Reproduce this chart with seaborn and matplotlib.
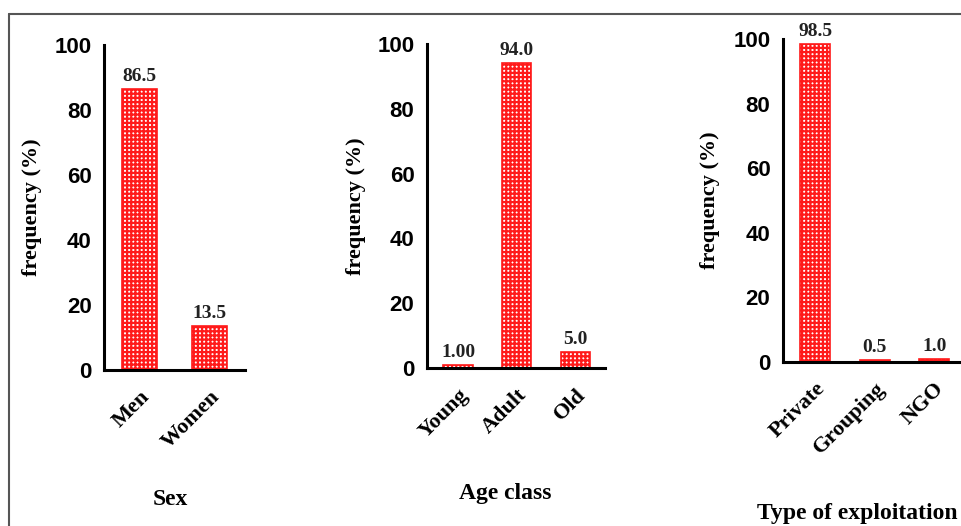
#!/usr/bin/env python3

from typing import List

import matplotlib.pyplot as plt
import pandas as pd
import seaborn as sns
from matplotlib.lines import Line2D

# data
sex_labels = ["Men", "Women"]
sex_values = [86.5, 13.5]
sex_text = ["86.5", "13.5"]

age_labels = ["Young", "Adult", "Old"]
age_values = [1.0, 94.0, 5.0]
age_text = ["1.00", "94.0", "5.0"]

expl_labels = ["Private", "Grouping", "NGO"]
expl_values = [98.5, 0.5, 1.0]
expl_text = ["98.5", "0.5", "1.0"]

SERIF = "Liberation Serif"
SANS = "Liberation Sans"
RED = "#ff1a1a"


def draw_panel(
    ax: plt.Axes,
    cats: List[str],
    vals: List[float],
    texts: List[str],
    xlabel: str,
    xlim,
    xlabel_pos,
    ylabel_x: float,
    pad: float = 3,
) -> None:
    df = pd.DataFrame({"cat": cats, "val": vals})
    sns.barplot(
        data=df, x="cat", y="val", ax=ax, color="white",
        edgecolor=RED, linewidth=1.2, width=0.5, saturation=1,
    )
    for p in ax.patches:
        p.set_hatch("++++")

    ax.bar_label(
        ax.containers[0], labels=texts, padding=pad,
        fontsize=14, fontweight="bold", family=SERIF, color="#222222",
    )

    ax.set_ylim(0, 100)
    ax.set_xlim(*xlim)
    ax.set_yticks([0, 20, 40, 60, 80, 100])
    for lab in ax.get_yticklabels():
        lab.set_fontfamily(SANS)
        lab.set_fontweight("bold")
        lab.set_fontsize(16)
    ax.set_xticks(range(len(cats)))
    ax.set_xticklabels(
        cats, rotation=45, ha="right", rotation_mode="anchor",
        fontsize=16, fontweight="bold", family=SERIF,
    )

    ax.set_ylabel("frequency (%)", fontsize=16, fontweight="bold", family=SERIF)
    ax.yaxis.set_label_coords(ylabel_x, 0.5)
    ax.set_xlabel(xlabel, fontsize=17, fontweight="bold", family=SERIF)
    ax.xaxis.set_label_coords(*xlabel_pos)

    sns.despine(ax=ax)
    for s in ["left", "bottom"]:
        ax.spines[s].set_linewidth(2.2)
        ax.spines[s].set_color("black")
    ax.tick_params(axis="both", length=7, width=2.2, color="black",
                   labelcolor="black")
    ax.tick_params(axis="x", pad=5)
    ax.tick_params(axis="y", pad=2)
    ax.grid(False)


def main() -> None:
    sns.set_style("white")
    plt.rcParams["hatch.linewidth"] = 1.6
    plt.rcParams["text.color"] = "black"
    plt.rcParams["axes.labelcolor"] = "black"

    W, H = 961, 526
    fig = plt.figure(figsize=(W / 100, H / 100), dpi=100)

    def box(x0, x1, y0, y100):
        return [x0 / W, 1 - y0 / H, (x1 - x0) / W, (y0 - y100) / H]

    ax1 = fig.add_axes(box(104, 245, 370, 45))
    ax2 = fig.add_axes(box(427, 605, 368, 44))
    ax3 = fig.add_axes(box(783, 961, 362, 39))

    draw_panel(ax1, sex_labels, sex_values, sex_text, "Sex",
               (-0.51, 1.5), (0.47, -0.365), -0.44)
    draw_panel(ax2, age_labels, age_values, age_text, "Age class",
               (-0.53, 2.51), (0.44, -0.355), -0.34)
    draw_panel(ax3, expl_labels, expl_values, expl_text, "Type of exploitation",
               (-0.54, 2.45), (0.42, -0.435), -0.355)

    # outer frame (top and left edges only visible)
    fig.add_artist(Line2D([9 / W, 1], [1 - 14 / H, 1 - 14 / H],
                          color="#555555", lw=1.5, transform=fig.transFigure))
    fig.add_artist(Line2D([9 / W, 9 / W], [0, 1 - 14 / H],
                          color="#555555", lw=1.5, transform=fig.transFigure))

    fig.savefig("out.png", dpi=100)


if __name__ == "__main__":
    main()
